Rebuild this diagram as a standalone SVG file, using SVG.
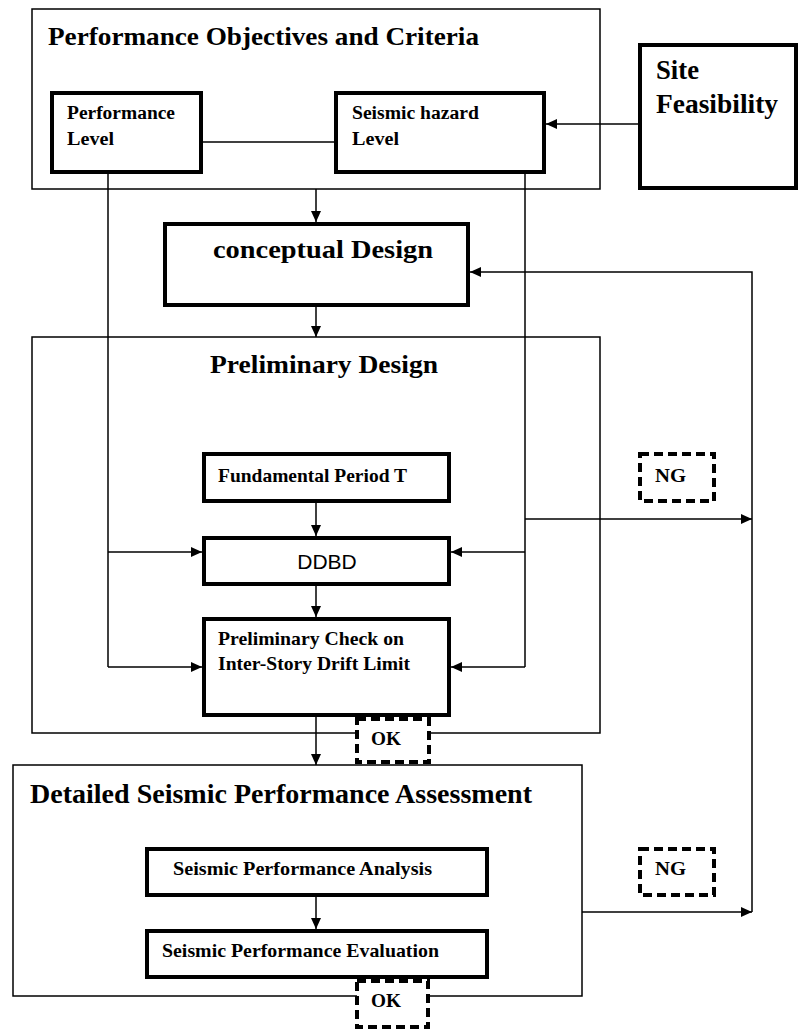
<svg xmlns="http://www.w3.org/2000/svg" width="800" height="1031" viewBox="0 0 800 1031">
<style>
.bg{fill:#fff}
.thin{fill:none;stroke:#000;stroke-width:1.5}
.thick{fill:#fff;stroke:#000;stroke-width:4}
.dash{fill:#fff;stroke:#000;stroke-width:4;stroke-dasharray:9 5}
.ln{fill:none;stroke:#000;stroke-width:1.5}
.t{font-family:"Liberation Serif","Times New Roman",serif;font-weight:bold;fill:#000}
.s{font-family:"Liberation Sans",Arial,sans-serif;fill:#000}
</style>
<defs>
<marker id="ah" markerUnits="userSpaceOnUse" markerWidth="11" markerHeight="10" refX="11" refY="5" orient="auto">
<path d="M0,0 L11,5 L0,10 z" fill="#000"/>
</marker>
</defs>
<rect class="bg" x="0" y="0" width="800" height="1031"/>

<g id="objectives">
<rect class="thin" x="32" y="9" width="568" height="180"/>
<text class="t" x="48" y="45" font-size="26" textLength="431" lengthAdjust="spacingAndGlyphs">Performance Objectives and Criteria</text>
</g>
<g id="performance-level">
<rect class="thick" x="52" y="93" width="149" height="79"/>
<text class="t" x="67" y="119" font-size="18" textLength="108" lengthAdjust="spacingAndGlyphs">Performance</text>
<text class="t" x="67" y="145" font-size="18" textLength="47" lengthAdjust="spacingAndGlyphs">Level</text>
</g>
<g id="seismic-hazard">
<rect class="thick" x="336" y="93" width="208" height="79"/>
<text class="t" x="352" y="119" font-size="18" textLength="127" lengthAdjust="spacingAndGlyphs">Seismic hazard</text>
<text class="t" x="352" y="145" font-size="18" textLength="47" lengthAdjust="spacingAndGlyphs">Level</text>
</g>
<g id="site-feasibility">
<rect class="thick" x="640" y="45" width="156" height="143"/>
<text class="t" x="656" y="79" font-size="27" textLength="43" lengthAdjust="spacingAndGlyphs">Site</text>
<text class="t" x="656" y="113" font-size="27" textLength="122" lengthAdjust="spacingAndGlyphs">Feasibility</text>
</g>
<g id="conceptual-design">
<rect class="thick" x="165" y="224" width="303" height="81"/>
<text class="t" x="213" y="258" font-size="25" textLength="220" lengthAdjust="spacingAndGlyphs">conceptual Design</text>
</g>
<g id="preliminary-design">
<rect class="thin" x="32" y="337" width="568" height="396"/>
<text class="t" x="210" y="373" font-size="26" textLength="228" lengthAdjust="spacingAndGlyphs">Preliminary Design</text>
</g>
<g id="fundamental-period">
<rect class="thick" x="204" y="454" width="245" height="47"/>
<text class="t" x="218" y="482" font-size="19" textLength="189" lengthAdjust="spacingAndGlyphs">Fundamental Period T</text>
</g>
<g id="ddbd">
<rect class="thick" x="204" y="538" width="245" height="46"/>
<text class="s" x="327" y="569" font-size="21" text-anchor="middle">DDBD</text>
</g>
<g id="preliminary-check">
<rect class="thick" x="204" y="619" width="245" height="96"/>
<text class="t" x="218" y="645" font-size="19" textLength="186" lengthAdjust="spacingAndGlyphs">Preliminary Check on</text>
<text class="t" x="218" y="670" font-size="19" textLength="192" lengthAdjust="spacingAndGlyphs">Inter-Story Drift Limit</text>
</g>
<g id="detailed-assessment">
<rect class="thin" x="13" y="765" width="569" height="231"/>
<text class="t" x="30" y="803" font-size="28" textLength="502" lengthAdjust="spacingAndGlyphs">Detailed Seismic Performance Assessment</text>
</g>
<g id="performance-analysis">
<rect class="thick" x="147" y="849" width="340" height="46"/>
<text class="t" x="173" y="875" font-size="19" textLength="259" lengthAdjust="spacingAndGlyphs">Seismic Performance Analysis</text>
</g>
<g id="performance-evaluation">
<rect class="thick" x="147" y="931" width="340" height="46"/>
<text class="t" x="162" y="957" font-size="19" textLength="277" lengthAdjust="spacingAndGlyphs">Seismic Performance Evaluation</text>
</g>
<g id="ng-1">
<rect class="dash" x="640" y="454" width="74" height="47"/>
<text class="t" x="655" y="482" font-size="19" textLength="31" lengthAdjust="spacingAndGlyphs">NG</text>
</g>
<g id="ng-2">
<rect class="dash" x="640" y="849" width="74" height="46"/>
<text class="t" x="655" y="875" font-size="19" textLength="31" lengthAdjust="spacingAndGlyphs">NG</text>
</g>
<g id="ok-1">
<rect class="dash" x="357" y="719" width="72" height="43"/>
<text class="t" x="371" y="745" font-size="19" textLength="30" lengthAdjust="spacingAndGlyphs">OK</text>
</g>
<g id="ok-2">
<rect class="dash" x="357" y="981" width="71" height="46"/>
<text class="t" x="371" y="1007" font-size="19" textLength="30" lengthAdjust="spacingAndGlyphs">OK</text>
</g>

<g id="connectors">
<path class="ln" d="M638,124 H546" marker-end="url(#ah)"/>
<path class="ln" d="M203,142 H334"/>
<path class="ln" d="M316,189 V222" marker-end="url(#ah)"/>
<path class="ln" d="M316,307 V337" marker-end="url(#ah)"/>
<path class="ln" d="M316,503 V536" marker-end="url(#ah)"/>
<path class="ln" d="M316,586 V617" marker-end="url(#ah)"/>
<path class="ln" d="M316,717 V765" marker-end="url(#ah)"/>
<path class="ln" d="M316,897 V929" marker-end="url(#ah)"/>
<path class="ln" d="M108,174 V667"/>
<path class="ln" d="M108,552 H202" marker-end="url(#ah)"/>
<path class="ln" d="M108,667 H202" marker-end="url(#ah)"/>
<path class="ln" d="M525,174 V667"/>
<path class="ln" d="M525,552 H451" marker-end="url(#ah)"/>
<path class="ln" d="M525,667 H451" marker-end="url(#ah)"/>
<path class="ln" d="M525,519 H752" marker-end="url(#ah)"/>
<path class="ln" d="M582,912 H752" marker-end="url(#ah)"/>
<path class="ln" d="M752,912 V272 H470" marker-end="url(#ah)"/>
</g>
</svg>
